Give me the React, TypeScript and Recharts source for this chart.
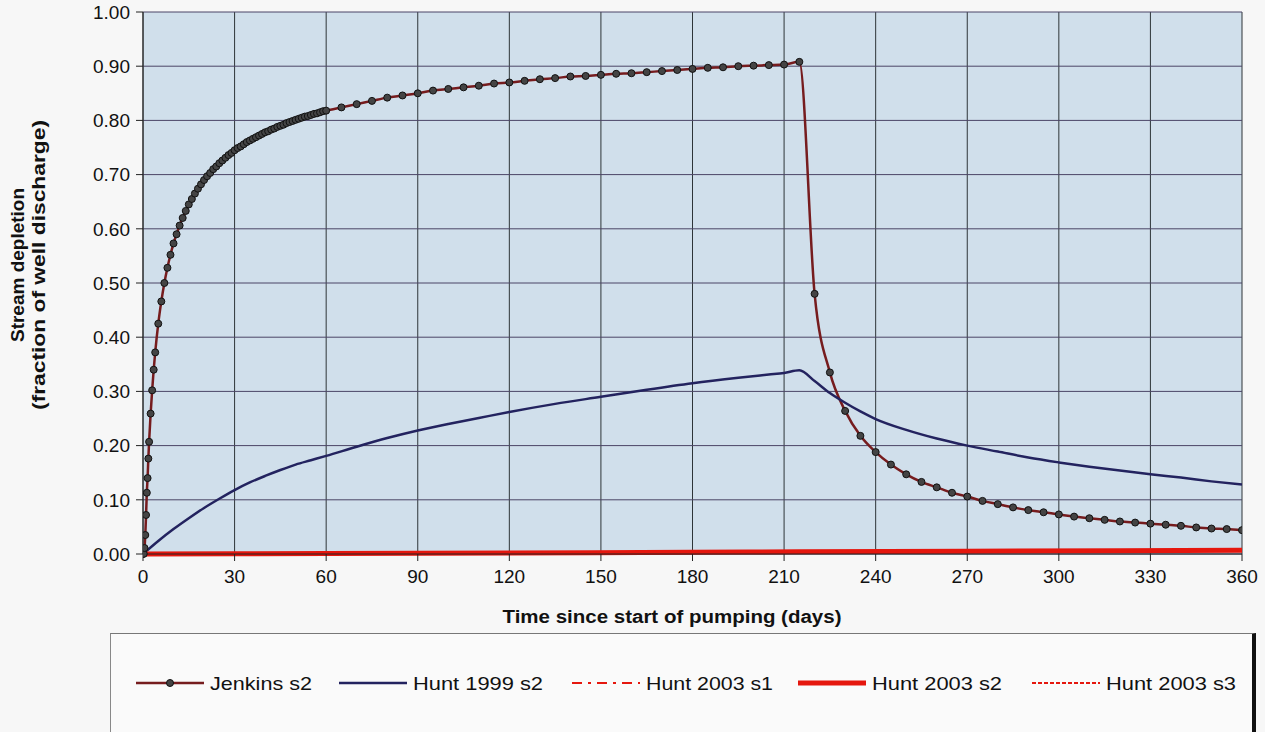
import React from "react";
import { CartesianGrid, Line, LineChart, XAxis, YAxis } from "recharts";

// Jenkins s2: fine steps early, daily to day 60, then every 5 days
const jenkinsEarlyDays = [
  0, 0.25, 0.5, 0.75, 1, 1.25, 1.5, 1.75, 2, 2.5, 3, 3.5, 4, 5, 6, 7, 8, 9, 10,
  11, 12, 13, 14, 15, 16, 17, 18, 19, 20, 21, 22, 23, 24, 25, 26, 27, 28, 29,
  30, 31, 32, 33, 34, 35, 36, 37, 38, 39, 40, 41, 42, 43, 44, 45, 46, 47, 48,
  49, 50, 51, 52, 53, 54, 55, 56, 57, 58, 59, 60,
];
const jenkinsEarlyValues = [
  0, 0.0003, 0.011, 0.035, 0.072, 0.113, 0.14, 0.176, 0.207, 0.259, 0.302,
  0.34, 0.372, 0.425, 0.466, 0.5, 0.528, 0.552, 0.573, 0.59, 0.606, 0.62,
  0.633, 0.645, 0.655, 0.665, 0.674, 0.682, 0.69, 0.697, 0.703, 0.71, 0.715,
  0.721, 0.726, 0.731, 0.736, 0.74, 0.745, 0.749, 0.752, 0.756, 0.76, 0.763,
  0.766, 0.769, 0.772, 0.775, 0.778, 0.78, 0.783, 0.785, 0.788, 0.79, 0.792,
  0.795, 0.797, 0.799, 0.801, 0.803, 0.805, 0.807, 0.808, 0.81, 0.812, 0.813,
  0.815, 0.817, 0.818,
];
const jenkinsLateDays = [
  65, 70, 75, 80, 85, 90, 95, 100, 105, 110, 115, 120, 125, 130, 135, 140, 145,
  150, 155, 160, 165, 170, 175, 180, 185, 190, 195, 200, 205, 210, 215, 220,
  225, 230, 235, 240, 245, 250, 255, 260, 265, 270, 275, 280, 285, 290, 295,
  300, 305, 310, 315, 320, 325, 330, 335, 340, 345, 350, 355, 360,
];
const jenkinsLateValues = [
  0.824, 0.83, 0.836, 0.842, 0.846, 0.85, 0.855, 0.858, 0.861, 0.864, 0.868,
  0.87, 0.873, 0.876, 0.878, 0.881, 0.882, 0.884, 0.886, 0.887, 0.889, 0.891,
  0.893, 0.895, 0.897, 0.898, 0.9, 0.901, 0.902, 0.903, 0.908, 0.48, 0.335,
  0.264, 0.218, 0.188, 0.165, 0.147, 0.133, 0.123, 0.113, 0.106, 0.098, 0.092,
  0.086, 0.081, 0.077, 0.073, 0.069, 0.066, 0.063, 0.06, 0.058, 0.056, 0.054,
  0.052, 0.049, 0.047, 0.046, 0.044,
];

const hunt1999Days = [
  0, 5, 10, 15, 20, 25, 30, 35, 40, 45, 50, 55, 60, 70, 80, 90, 100, 110, 120,
  135, 150, 165, 180, 195, 205, 210, 215, 220, 225, 230, 235, 240, 250, 260,
  270, 280, 290, 300, 310, 320, 330, 340, 350, 360,
];
const hunt1999Values = [
  0, 0.024, 0.046, 0.066, 0.085, 0.102, 0.118, 0.132, 0.144, 0.155, 0.165,
  0.173, 0.181, 0.198, 0.214, 0.228, 0.24, 0.251, 0.262, 0.277, 0.29, 0.303,
  0.315, 0.325, 0.331, 0.334, 0.339, 0.319, 0.297, 0.279, 0.263, 0.249, 0.229,
  0.213, 0.2, 0.189, 0.178, 0.169, 0.161, 0.154, 0.147, 0.141, 0.134, 0.128,
];

const hunt2003Days = [0, 60, 120, 180, 215, 270, 360];
const hunt2003s1Values = [0, 0.0005, 0.001, 0.002, 0.003, 0.004, 0.006];
const hunt2003s2Values = [0, 0.001, 0.002, 0.003, 0.004, 0.005, 0.007];
const hunt2003s3Values = [0, 0.001, 0.002, 0.003, 0.004, 0.005, 0.007];

const xTicks = [0, 30, 60, 90, 120, 150, 180, 210, 240, 270, 300, 330, 360];
const yTicks = [0, 0.1, 0.2, 0.3, 0.4, 0.5, 0.6, 0.7, 0.8, 0.9, 1.0];

const toPoints = (days: number[], values: number[]) =>
  days.map((day, i) => ({ day, value: values[i] }));

const jenkinsData = [
  ...toPoints(jenkinsEarlyDays, jenkinsEarlyValues),
  ...toPoints(jenkinsLateDays, jenkinsLateValues),
];
const hunt1999Data = toPoints(hunt1999Days, hunt1999Values);
const hunt2003s1Data = toPoints(hunt2003Days, hunt2003s1Values);
const hunt2003s2Data = toPoints(hunt2003Days, hunt2003s2Values);
const hunt2003s3Data = toPoints(hunt2003Days, hunt2003s3Values);

const FONT = '"Liberation Sans", Arial, sans-serif';
const JENKINS = "#761c1e";
const HUNT99 = "#23235f";
const RED = "#e5170e";

function YTitle() {
  return (
    <g fontFamily={FONT} fontWeight="bold" fontSize={18} fill="#111">
      <text
        x={24}
        y={265}
        textAnchor="middle"
        textLength={154}
        lengthAdjust="spacingAndGlyphs"
        transform="rotate(-90 24 265)"
      >
        Stream depletion
      </text>
      <text
        x={45}
        y={265}
        textAnchor="middle"
        textLength={290}
        lengthAdjust="spacingAndGlyphs"
        transform="rotate(-90 45 265)"
      >
        (fraction of well discharge)
      </text>
    </g>
  );
}

function XTitle() {
  return (
    <text
      x={672}
      y={623}
      textAnchor="middle"
      textLength={339}
      lengthAdjust="spacingAndGlyphs"
      fontFamily={FONT}
      fontWeight="bold"
      fontSize={18}
      fill="#111"
    >
      Time since start of pumping (days)
    </text>
  );
}

interface LegendItem {
  name: string;
  color: string;
  width: number;
  x: number;
  textWidth: number;
  dash?: string;
  marker?: boolean;
}

const legendItems: LegendItem[] = [
  { name: "Jenkins s2", color: JENKINS, width: 2.5, x: 136, textWidth: 102, marker: true },
  { name: "Hunt 1999 s2", color: HUNT99, width: 2.5, x: 339, textWidth: 130 },
  { name: "Hunt 2003 s1", color: RED, width: 2, x: 572, textWidth: 127, dash: "10 6 3 6" },
  { name: "Hunt 2003 s2", color: RED, width: 5, x: 798, textWidth: 130 },
  { name: "Hunt 2003 s3", color: RED, width: 2, x: 1032, textWidth: 130, dash: "4 2" },
];

function LegendBox() {
  const left = 110;
  const top = 633;
  const cy = 683 - top;
  return (
    <div
      style={{
        position: "absolute",
        left,
        top,
        width: 1146,
        height: 110,
        background: "#fafafa",
        borderTop: "1.5px solid #777",
        borderLeft: "1.5px solid #888",
        borderRight: "4px solid #111",
        boxSizing: "border-box",
      }}
    >
      <svg
        width={1146}
        height={110}
        style={{ position: "absolute", left: -1.5, top: -1.5 }}
      >
        {legendItems.map((item) => (
          <g key={item.name}>
            <line
              x1={item.x - left}
              y1={cy}
              x2={item.x - left + 68}
              y2={cy}
              stroke={item.color}
              strokeWidth={item.width}
              strokeDasharray={item.dash}
            />
            {item.marker && (
              <circle
                cx={item.x - left + 34}
                cy={cy}
                r={3.5}
                fill="#444"
                stroke="#111"
              />
            )}
            <text
              x={item.x - left + 74}
              y={cy + 7}
              fontFamily={FONT}
              fontSize={19}
              fill="#111"
              textLength={item.textWidth}
              lengthAdjust="spacingAndGlyphs"
            >
              {item.name}
            </text>
          </g>
        ))}
      </svg>
    </div>
  );
}

export default function App() {
  return (
    <div
      style={{
        position: "absolute",
        left: 0,
        top: 0,
        width: 1265,
        height: 732,
        background: "#f7f7f7",
        overflow: "hidden",
      }}
    >
      <LineChart
        width={1265}
        height={732}
        margin={{ top: 12, right: 23, bottom: 148, left: 0 }}
        style={{ fontFamily: FONT }}
      >
        <CartesianGrid
          horizontal={false}
          stroke="#2e3538"
          strokeWidth={1}
          fill="#d0dfeb"
          fillOpacity={1}
        />
        <CartesianGrid vertical={false} stroke="#4a4566" strokeWidth={1} />
        <XAxis
          type="number"
          dataKey="day"
          domain={[0, 360]}
          ticks={xTicks}
          interval={0}
          allowDataOverflow
          height={30}
          tickSize={7}
          tickMargin={9}
          stroke="#222"
          tick={{ fill: "#111", fontSize: 19 }}
        />
        <YAxis
          type="number"
          dataKey="value"
          domain={[0, 1]}
          ticks={yTicks}
          interval={0}
          width={143}
          tickSize={7}
          tickMargin={6}
          stroke="#222"
          tickFormatter={(v: number) => v.toFixed(2)}
          tick={{ fill: "#111", fontSize: 19 }}
        />
        <Line
          data={jenkinsData}
          dataKey="value"
          type="monotone"
          stroke={JENKINS}
          strokeWidth={2.5}
          dot={{ r: 3.5, fill: "#444", stroke: "#111", strokeWidth: 1 }}
          isAnimationActive={false}
          name="Jenkins s2"
        />
        <Line
          data={hunt1999Data}
          dataKey="value"
          type="monotone"
          stroke={HUNT99}
          strokeWidth={2.5}
          dot={false}
          isAnimationActive={false}
          name="Hunt 1999 s2"
        />
        <Line
          data={hunt2003s1Data}
          dataKey="value"
          type="monotone"
          stroke={RED}
          strokeWidth={2}
          strokeDasharray="10 6 3 6"
          dot={false}
          isAnimationActive={false}
          name="Hunt 2003 s1"
        />
        <Line
          data={hunt2003s2Data}
          dataKey="value"
          type="monotone"
          stroke={RED}
          strokeWidth={5}
          dot={false}
          isAnimationActive={false}
          name="Hunt 2003 s2"
        />
        <Line
          data={hunt2003s3Data}
          dataKey="value"
          type="monotone"
          stroke={RED}
          strokeWidth={2}
          strokeDasharray="4 2"
          dot={false}
          isAnimationActive={false}
          name="Hunt 2003 s3"
        />
        <YTitle />
        <XTitle />
      </LineChart>
      <LegendBox />
    </div>
  );
}
